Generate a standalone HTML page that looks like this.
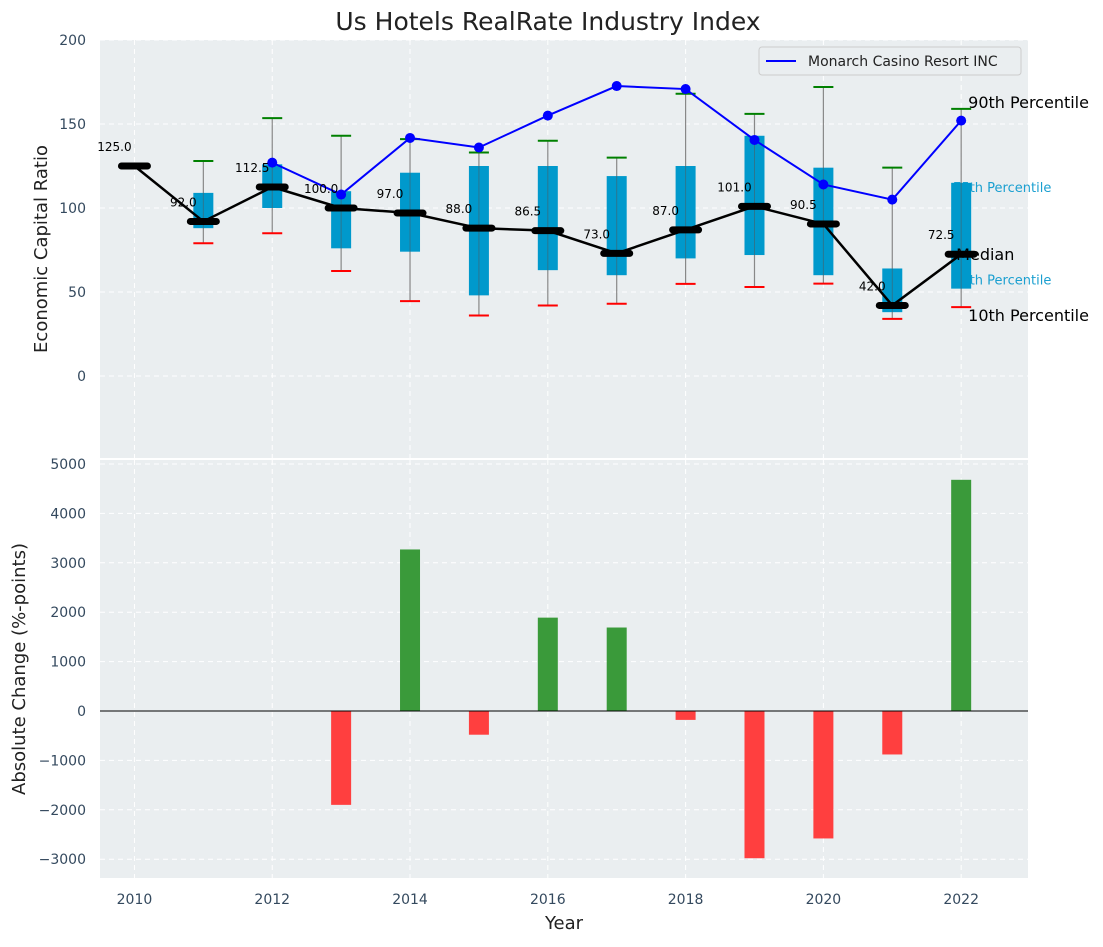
<!DOCTYPE html>
<html><head><meta charset="utf-8"><style>
body{margin:0;background:#fff;font-family:"Liberation Sans","DejaVu Sans",sans-serif;}
svg text{font-family:"DejaVu Sans","Liberation Sans",sans-serif;}
</style></head><body>
<svg id="c" width="1103" height="942" xmlns="http://www.w3.org/2000/svg"></svg>
<script>
const years=[2010,2011,2012,2013,2014,2015,2016,2017,2018,2019,2020,2021,2022];
const medians=[125,92,112.5,100,97,88,86.5,73,87,101,90.5,42,72.5];
const q25=[null,88,100,76,74,48,63,60,70,72,60,38,52];
const q75=[null,109,126,110,121,125,125,119,125,143,124,64,115];
const p90=[null,128,153.5,143,141,133,140,130,168,156,172,124,159];
const p10=[null,79,85,62.5,44.6,36,42,43,54.8,53,55,34,41];
const company=[null,null,127,108,141.7,136,155,172.6,170.8,140.5,114,105,152];
const changes=[null,null,null,-1900,3270,-480,1890,1690,-180,-2980,-2580,-880,4680];
const topTicks=[0,50,100,150,200];
const botTicks=[-3000,-2000,-1000,0,1000,2000,3000,4000,5000];
const xTicks=[2010,2012,2014,2016,2018,2020,2022];
const NS="http://www.w3.org/2000/svg",svg=document.getElementById('c');
const L=100,R=1028;
const x=v=>L+(v-2009.5)/(2022.97-2009.5)*(R-L);
const yT=v=>376-v*84/50;
const yB=v=>711-v*0.0494;
const fmt=v=>(v<0?'\u2212':'')+Math.abs(v);
function mk(t,a,txt){const e=document.createElementNS(NS,t);for(const k in a)e.setAttribute(k,a[k]);if(txt!=null)e.textContent=txt;svg.appendChild(e);return e;}
let e=mk('text',{x:548,y:30,'text-anchor':'middle','font-size':25,fill:'#222'},'Us Hotels RealRate Industry Index');

e=mk('rect',{x:L,y:40,width:R-L,height:418,fill:'#eaeef0'});

e=mk('rect',{x:L,y:460,width:R-L,height:418,fill:'#eaeef0'});

xTicks.forEach(v=>{
 mk('line',{x1:x(v),x2:x(v),y1:40,y2:458,stroke:'#fff','stroke-dasharray':'5,4','stroke-width':1});
 mk('line',{x1:x(v),x2:x(v),y1:460,y2:878,stroke:'#fff','stroke-dasharray':'5,4','stroke-width':1});
 e=mk('text',{x:x(v),y:904,'text-anchor':'middle','font-size':14,fill:'#34495e'},v);
 
});
topTicks.forEach(v=>{
 mk('line',{x1:L,x2:R,y1:yT(v),y2:yT(v),stroke:'#fff','stroke-dasharray':'5,4'});
 e=mk('text',{x:86,y:yT(v)+5,'text-anchor':'end','font-size':14,fill:'#34495e'},fmt(v));
 
});
botTicks.forEach(v=>{
 mk('line',{x1:L,x2:R,y1:yB(v),y2:yB(v),stroke:'#fff','stroke-dasharray':'5,4'});
 e=mk('text',{x:86,y:yB(v)+5,'text-anchor':'end','font-size':14,fill:'#34495e'},fmt(v));
 
});
const lx=x(2022);
e=mk('text',{x:lx-8,y:yT(q75[12])+9,'font-size':13,fill:'#1a9fd0'},'75th Percentile');

e=mk('text',{x:lx-8,y:yT(q25[12])-4,'font-size':13,fill:'#1a9fd0'},'25th Percentile');

years.forEach((yr,i)=>{
 if(p90[i]==null)return;
 const cx=x(yr);
 e=mk('line',{x1:cx,x2:cx,y1:yT(p90[i]),y2:yT(p10[i]),stroke:'#888','stroke-width':1.2});
 
 e=mk('rect',{x:cx-10,y:yT(q75[i]),width:20,height:yT(q25[i])-yT(q75[i]),fill:'#0099cc'});
 
 mk('line',{x1:cx,x2:cx,y1:yT(q75[i]),y2:yT(q25[i]),stroke:'#555','stroke-width':1,opacity:0.5});
 e=mk('line',{x1:cx-10,x2:cx+10,y1:yT(p90[i]),y2:yT(p90[i]),stroke:'green','stroke-width':2});
 
 e=mk('line',{x1:cx-10,x2:cx+10,y1:yT(p10[i]),y2:yT(p10[i]),stroke:'red','stroke-width':2});
 
});
let pts=[];years.forEach((yr,i)=>{if(company[i]!=null)pts.push(x(yr)+','+yT(company[i]));});
e=mk('polyline',{points:pts.join(' '),fill:'none',stroke:'blue','stroke-width':2});

years.forEach((yr,i)=>{if(company[i]==null)return;
 e=mk('circle',{cx:x(yr),cy:yT(company[i]),r:5,fill:'blue'});
 });
e=mk('polyline',{points:years.map((yr,i)=>x(yr)+','+yT(medians[i])).join(' '),fill:'none',stroke:'#000','stroke-width':2.5});

years.forEach((yr,i)=>{const cx=x(yr),cy=yT(medians[i]);
 e=mk('line',{x1:cx-13,x2:cx+13,y1:cy,y2:cy,stroke:'#000','stroke-width':7,'stroke-linecap':'round'});
 
 e=mk('text',{x:cx-20,y:cy-15,'text-anchor':'middle','font-size':12,fill:'#000'},medians[i].toFixed(1));
 
});
e=mk('text',{x:lx+7,y:yT(p90[12])-1,'font-size':16,fill:'#000'},'90th Percentile');

e=mk('text',{x:lx-5,y:yT(medians[12])+6,'font-size':16,fill:'#000'},'Median');

e=mk('text',{x:lx+7,y:yT(p10[12])+14,'font-size':16,fill:'#000'},'10th Percentile');

e=mk('rect',{x:759,y:47,width:262,height:28,fill:'#eaeef0',stroke:'#ccc',rx:3});

mk('line',{x1:766,x2:796,y1:61,y2:61,stroke:'blue','stroke-width':2});
e=mk('text',{x:808,y:66,'font-size':14,fill:'#222'},'Monarch Casino Resort INC');

years.forEach((yr,i)=>{if(changes[i]==null)return;const v=changes[i];
 e=mk('rect',{x:x(yr)-10,y:Math.min(yB(v),yB(0)),width:20,height:Math.abs(yB(v)-yB(0)),fill:v>=0?'#3a9a3a':'#ff3f3f'});
 });
mk('line',{x1:L,x2:R,y1:yB(0),y2:yB(0),stroke:'#000','stroke-width':1});
e=mk('text',{x:0,y:0,transform:'translate(47,249) rotate(-90)','text-anchor':'middle','font-size':18,fill:'#222'},'Economic Capital Ratio');

e=mk('text',{x:0,y:0,transform:'translate(25,669) rotate(-90)','text-anchor':'middle','font-size':18,fill:'#222'},'Absolute Change (%-points)');

e=mk('text',{x:564,y:929,'text-anchor':'middle','font-size':18,fill:'#222'},'Year');

</script>
</body></html>
